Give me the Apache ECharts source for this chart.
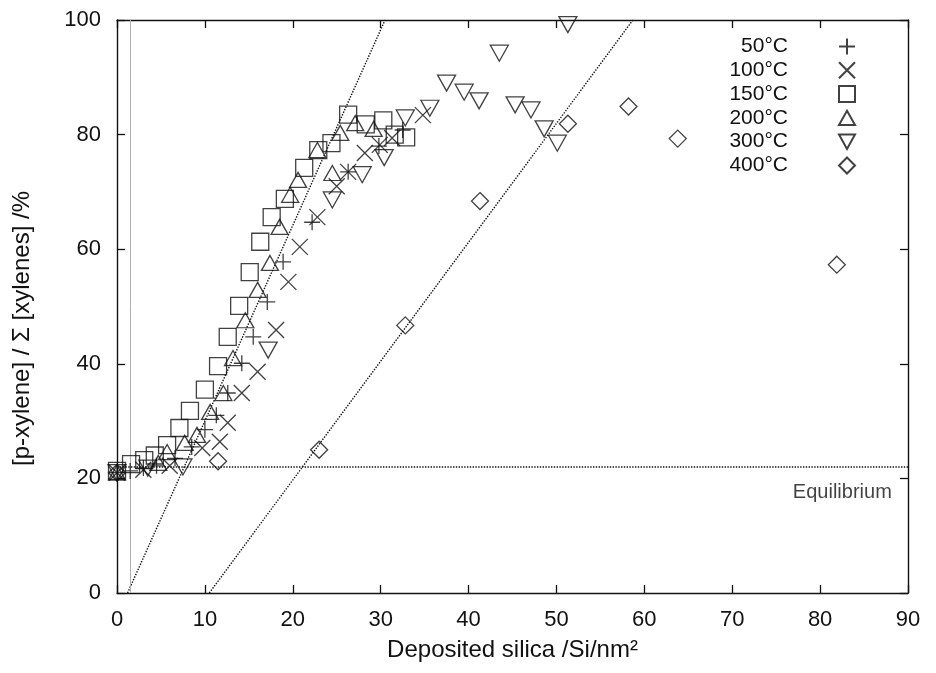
<!DOCTYPE html>
<html>
<head>
<meta charset="utf-8">
<script src="https://cdn.jsdelivr.net/npm/echarts@6/dist/echarts.min.js"></script>
<style>
  html, body { margin: 0; padding: 0; background: #fff; }
  #chart { width: 936px; height: 673px; }
</style>
</head>
<body>
<div id="chart"></div>
<script>
// p-xylene selectivity vs deposited silica, one series per deposition temperature
const seriesNames = ['50°C', '100°C', '150°C', '200°C', '300°C', '400°C'];

const s50 = [[0,21.0],[1.5,21.3],[3,21.8],[4.5,22.2],[6.6,23.5],[8.5,25.5],[10.0,28.5],[11.3,31.0],[12.6,34.9],[14.2,40.1],[15.5,44.7],[17.1,50.8],[18.9,57.8],[22.2,64.7],[26.3,73.5],[29.8,78.0],[32.5,80.8]];
const s100 = [[0,21.0],[3,21.5],[6,22.2],[9.7,25.3],[11.7,26.4],[12.6,29.7],[14.2,34.9],[16.0,38.6],[18.1,45.9],[19.5,54.3],[20.8,60.4],[22.8,65.6],[25.0,71.0],[26.3,73.5],[28.2,76.8],[29.9,78.2],[31.3,79.4],[34.8,83.4]];
const s150 = [[0,21.3],[1.6,22.5],[3.1,23.2],[4.3,24.0],[5.7,25.8],[7.1,28.8],[8.3,31.8],[10.0,35.5],[11.5,39.6],[12.6,44.7],[13.9,50.1],[15.1,56.0],[16.3,61.3],[17.6,65.6],[19.1,68.8],[21.3,74.2],[22.9,77.3],[24.4,78.5],[26.3,83.5],[28.3,81.8],[30.3,82.5],[31.6,80.0],[32.9,79.5]];
const s200 = [[0,21.0],[4.7,22.7],[5.7,24.6],[7.7,26.2],[9.1,27.6],[10.6,31.6],[12.1,34.9],[13.2,41.0],[14.6,47.6],[16.0,52.9],[17.4,57.6],[18.5,63.9],[19.7,69.5],[20.6,72.1],[22.8,77.3],[24.5,73.3],[25.4,80.3],[27.1,82.0],[29.2,81.0]];
const s300 = [[0,21.0],[3.5,21.8],[7.5,22.0],[17.2,42.4],[24.5,68.6],[27.9,73.0],[30.4,76.0],[32.8,82.9],[35.6,84.6],[37.5,89.0],[39.5,87.4],[41.2,85.9],[43.5,94.2],[45.3,85.2],[47.1,84.3],[48.6,81.0],[50.1,78.5],[51.3,99.2]];
const s400 = [[0,21.0],[11.5,23.0],[23.0,25.0],[32.8,46.7],[41.3,68.4],[51.3,81.9],[58.2,84.9],[63.8,79.3],[81.9,57.3]];

// guide lines
const equilibriumLine = [[0,22],[90,22]];
const fitLineA = [[1.2,0],[30.5,100]];
const fitLineB = [[10.5,0],[58.7,100]];
const equilibriumLabel = [[76.9,17.6]];
const refX = 1.5;

const xTicks = { min: 0, max: 90, interval: 10 };
const yTicks = { min: 0, max: 100, interval: 20 };

const FONT = '"Liberation Sans", Arial, Helvetica, sans-serif';
const INK = '#111';

const symbols = {
  plus: 'path://M0,5L10,5M5,0L5,10',
  cross: 'path://M0,0L10,10M10,0L0,10',
  rect: 'rect',
  triUp: 'path://M5,0L10,9L0,9Z',
  triDown: 'path://M0,0L10,0L5,9Z',
  diamond: 'path://M5,0L10,5L5,10L0,5Z'
};

function markerSeries(name, data, symbol, size) {
  return {
    name: name,
    type: 'scatter',
    data: data,
    symbol: symbol,
    symbolSize: size,
    z: 5,
    itemStyle: { color: 'rgba(0,0,0,0)', borderColor: INK, borderWidth: 1.3 },
    emphasis: { disabled: true }
  };
}

function guide(data, type) {
  return {
    type: 'line',
    data: data,
    symbol: 'none',
    silent: true,
    z: 3,
    lineStyle: { color: INK, width: 1.4, type: type }
  };
}

function axisCommon(pos, showLabel) {
  return {
    type: 'value',
    position: pos,
    axisLine: { show: true, onZero: false, lineStyle: { color: INK, width: 1.4 } },
    axisTick: { show: true, inside: true, length: 8, lineStyle: { color: INK, width: 1.3 } },
    axisLabel: { show: showLabel, color: INK, fontFamily: FONT, fontSize: 22, margin: 16 },
    splitLine: { show: false }
  };
}

const chart = echarts.init(document.getElementById('chart'), null, { renderer: 'canvas' });

const option = {
  backgroundColor: '#fff',
  animation: false,
  grid: { left: 117, right: 28, top: 20, bottom: 80, containLabel: false, outerBoundsMode: 'none' },
  xAxis: [
    Object.assign(axisCommon('bottom', true), xTicks, {
      name: 'Deposited silica /Si/nm²',
      nameLocation: 'middle',
      nameGap: 45,
      nameTextStyle: { color: INK, fontFamily: FONT, fontSize: 24 }
    }),
    Object.assign(axisCommon('top', false), xTicks)
  ],
  yAxis: [
    Object.assign(axisCommon('left', true), yTicks, {
      name: '[p-xylene] / Σ [xylenes] /%',
      nameLocation: 'middle',
      nameGap: 83,
      nameTextStyle: { color: INK, fontFamily: FONT, fontSize: 24, padding: [0, 44, 0, 0] }
    }),
    Object.assign(axisCommon('right', false), yTicks)
  ],
  legend: {
    data: seriesNames,
    orient: 'vertical',
    right: 75,
    top: 31,
    align: 'right',
    itemWidth: 16,
    itemHeight: 16,
    itemGap: 2.8,
    selectedMode: false,
    textStyle: {
      color: INK, fontFamily: FONT, fontSize: 21, lineHeight: 20,
      width: 60, align: 'right', padding: [0, 46, 0, 0]
    }
  },
  series: [
    guide(equilibriumLine, 'dotted'),
    guide(fitLineA, 'dotted'),
    guide(fitLineB, 'dotted'),
    {
      type: 'line',
      data: [],
      silent: true,
      markLine: {
        silent: true,
        symbol: 'none',
        label: { show: false },
        lineStyle: { color: '#b0b0b0', width: 1, type: 'solid' },
        data: [{ xAxis: refX }]
      }
    },
    {
      type: 'scatter',
      data: equilibriumLabel,
      symbolSize: 0,
      silent: true,
      label: {
        show: true,
        position: 'right',
        distance: 0,
        formatter: 'Equilibrium',
        color: INK,
        fontFamily: FONT,
        fontSize: 20
      }
    },
    markerSeries(seriesNames[0], s50, symbols.plus, 16),
    markerSeries(seriesNames[1], s100, symbols.cross, 16),
    markerSeries(seriesNames[2], s150, symbols.rect, 17),
    markerSeries(seriesNames[3], s200, symbols.triUp, [17, 15]),
    markerSeries(seriesNames[4], s300, symbols.triDown, [18, 16]),
    markerSeries(seriesNames[5], s400, symbols.diamond, 17)
  ]
};

chart.setOption(option);
</script>
</body>
</html>
